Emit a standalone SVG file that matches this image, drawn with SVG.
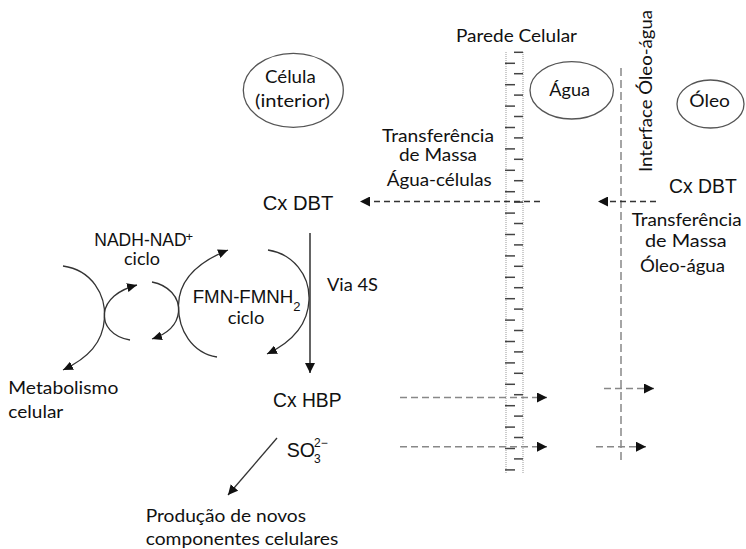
<svg xmlns="http://www.w3.org/2000/svg" width="746" height="549" viewBox="0 0 746 549">
<style>
.cal{font-family:Lato,"Open Sans","Liberation Sans",sans-serif;fill:#111;}
.ari{font-family:"Liberation Sans",Arial,sans-serif;fill:#111;}
.ell{fill:none;stroke:#555;stroke-width:1.3;}
.arc{fill:none;stroke:#333;stroke-width:1.3;}
.dashd{fill:none;stroke:#333;stroke-width:1.3;stroke-dasharray:6 4;}
.dashg{fill:none;stroke:#888;stroke-width:1.5;stroke-dasharray:7 4;}
.dot{fill:none;stroke:#999;stroke-width:1;stroke-dasharray:1 1;}
.tick{stroke:#444;stroke-width:1.5;}
</style>
<defs>
<marker id="ah" markerUnits="userSpaceOnUse" markerWidth="11" markerHeight="10" refX="10" refY="5" orient="auto" viewBox="0 0 11 10">
<path d="M0,0 L10,5 L0,10 z" fill="#111"/>
</marker>
<marker id="ahs" markerUnits="userSpaceOnUse" markerWidth="11" markerHeight="9" refX="10" refY="4.5" orient="auto" viewBox="0 0 11 9">
<path d="M0,0 L10,4.5 L0,9 z" fill="#111"/>
</marker>
</defs>
<rect width="746" height="549" fill="#fff"/>

<g id="cell-wall">
<line class="dot" x1="506" y1="52" x2="506" y2="473"/>
<line class="dot" x1="523" y1="52" x2="523" y2="473"/>
<g class="tick">
<line x1="505" y1="63.3" x2="515" y2="63.3"/><line x1="505" y1="84.7" x2="515" y2="84.7"/><line x1="505" y1="106.1" x2="515" y2="106.1"/><line x1="505" y1="127.5" x2="515" y2="127.5"/><line x1="505" y1="148.9" x2="515" y2="148.9"/><line x1="505" y1="170.3" x2="515" y2="170.3"/><line x1="505" y1="191.7" x2="515" y2="191.7"/><line x1="505" y1="213.1" x2="515" y2="213.1"/><line x1="505" y1="234.5" x2="515" y2="234.5"/><line x1="505" y1="255.9" x2="515" y2="255.9"/><line x1="505" y1="277.3" x2="515" y2="277.3"/><line x1="505" y1="298.7" x2="515" y2="298.7"/><line x1="505" y1="320.1" x2="515" y2="320.1"/><line x1="505" y1="341.5" x2="515" y2="341.5"/><line x1="505" y1="362.9" x2="515" y2="362.9"/><line x1="505" y1="384.3" x2="515" y2="384.3"/><line x1="505" y1="405.7" x2="515" y2="405.7"/><line x1="505" y1="427.1" x2="515" y2="427.1"/><line x1="505" y1="448.5" x2="515" y2="448.5"/><line x1="505" y1="469.9" x2="515" y2="469.9"/>
<line x1="514" y1="52.3" x2="523" y2="52.3"/><line x1="514" y1="73.7" x2="523" y2="73.7"/><line x1="514" y1="95.1" x2="523" y2="95.1"/><line x1="514" y1="116.5" x2="523" y2="116.5"/><line x1="514" y1="137.9" x2="523" y2="137.9"/><line x1="514" y1="159.3" x2="523" y2="159.3"/><line x1="514" y1="180.7" x2="523" y2="180.7"/><line x1="514" y1="202.1" x2="523" y2="202.1"/><line x1="514" y1="223.5" x2="523" y2="223.5"/><line x1="514" y1="244.9" x2="523" y2="244.9"/><line x1="514" y1="266.3" x2="523" y2="266.3"/><line x1="514" y1="287.7" x2="523" y2="287.7"/><line x1="514" y1="309.1" x2="523" y2="309.1"/><line x1="514" y1="330.5" x2="523" y2="330.5"/><line x1="514" y1="351.9" x2="523" y2="351.9"/><line x1="514" y1="373.3" x2="523" y2="373.3"/><line x1="514" y1="394.7" x2="523" y2="394.7"/><line x1="514" y1="416.1" x2="523" y2="416.1"/><line x1="514" y1="437.5" x2="523" y2="437.5"/><line x1="514" y1="458.9" x2="523" y2="458.9"/>
</g>
<text class="cal" x="456" y="42" font-size="18" textLength="121" lengthAdjust="spacingAndGlyphs">Parede Celular</text>
</g>

<g id="interface">
<line x1="621" y1="68" x2="621" y2="460" stroke="#888" stroke-width="1.5" stroke-dasharray="8 4"/>
<text class="cal" transform="translate(652,172) rotate(-90)" x="0" y="0" font-size="18" textLength="162" lengthAdjust="spacingAndGlyphs">Interface Óleo-água</text>
</g>

<g id="celula">
<ellipse class="ell" cx="293.3" cy="90.3" rx="50" ry="37"/>
<text class="cal" x="265" y="83" font-size="18" textLength="50.7" lengthAdjust="spacingAndGlyphs">Célula</text>
<text class="cal" x="255" y="106.5" font-size="18" textLength="75" lengthAdjust="spacingAndGlyphs">(interior)</text>
</g>

<g id="agua">
<ellipse class="ell" cx="571.7" cy="90.3" rx="41.7" ry="28.7"/>
<text class="cal" x="549.3" y="96" font-size="18" textLength="40.7" lengthAdjust="spacingAndGlyphs">Água</text>
</g>

<g id="oleo">
<ellipse class="ell" cx="710.5" cy="104" rx="33.5" ry="24"/>
<text class="cal" x="689.3" y="106.5" font-size="18" textLength="40.7" lengthAdjust="spacingAndGlyphs">Óleo</text>
</g>

<g id="transf-agua-celulas">
<text class="cal" x="382" y="141.7" font-size="17" textLength="112" lengthAdjust="spacingAndGlyphs">Transferência</text>
<text class="cal" x="399" y="161" font-size="17" textLength="78" lengthAdjust="spacingAndGlyphs">de Massa</text>
<text class="cal" x="386.7" y="185.5" font-size="17" textLength="105" lengthAdjust="spacingAndGlyphs">Água-células</text>
</g>

<g id="transf-oleo-agua">
<text class="cal" x="631.7" y="226" font-size="17" textLength="110" lengthAdjust="spacingAndGlyphs">Transferência</text>
<text class="cal" x="645" y="247" font-size="17" textLength="81.7" lengthAdjust="spacingAndGlyphs">de Massa</text>
<text class="cal" x="640" y="272" font-size="17" textLength="85" lengthAdjust="spacingAndGlyphs">Óleo-água</text>
</g>

<g id="cx-dbt-cell">
<text class="ari" x="262.7" y="210" font-size="20" textLength="70.6" lengthAdjust="spacingAndGlyphs">Cx DBT</text>
</g>
<g id="cx-dbt-oil">
<text class="ari" x="669" y="193" font-size="19.5" textLength="67.7" lengthAdjust="spacingAndGlyphs">Cx DBT</text>
</g>

<g id="nadh">
<text class="ari" x="94.3" y="245.7" font-size="17.5" textLength="92.4" lengthAdjust="spacingAndGlyphs">NADH-NAD</text>
<text class="ari" x="185.5" y="241" font-size="13">+</text>
<text class="cal" x="124" y="265" font-size="17" textLength="36" lengthAdjust="spacingAndGlyphs">ciclo</text>
</g>

<g id="fmn">
<text class="ari" x="192.7" y="303.3" font-size="18.5" textLength="100.6" lengthAdjust="spacingAndGlyphs">FMN-FMNH</text>
<text class="ari" x="293.3" y="310.5" font-size="13">2</text>
<text class="cal" x="227.7" y="324.3" font-size="17" textLength="36.6" lengthAdjust="spacingAndGlyphs">ciclo</text>
</g>

<g id="via4s">
<text class="cal" x="327" y="290.7" font-size="17" textLength="51" lengthAdjust="spacingAndGlyphs">Via 4S</text>
</g>

<g id="cx-hbp">
<text class="ari" x="273" y="406.7" font-size="19.5" textLength="68.5" lengthAdjust="spacingAndGlyphs">Cx HBP</text>
</g>

<g id="so3">
<text class="ari" x="286.7" y="456.7" font-size="20" textLength="28.3" lengthAdjust="spacingAndGlyphs">SO</text>
<text class="ari" x="314" y="463" font-size="12">3</text>
<text class="ari" x="314" y="446.5" font-size="12">2−</text>
</g>

<g id="metabolismo">
<text class="cal" x="8.3" y="394" font-size="18" textLength="110" lengthAdjust="spacingAndGlyphs">Metabolismo</text>
<text class="cal" x="8.3" y="418" font-size="18" textLength="55" lengthAdjust="spacingAndGlyphs">celular</text>
</g>

<g id="producao">
<text class="cal" x="145.7" y="521.7" font-size="18" textLength="160.3" lengthAdjust="spacingAndGlyphs">Produção de novos</text>
<text class="cal" x="145.7" y="545" font-size="18" textLength="192.6" lengthAdjust="spacingAndGlyphs">componentes celulares</text>
</g>

<g id="connectors">
<path class="dashd" d="M540,201.5 L360,201.5" marker-end="url(#ah)"/>
<path class="dashd" d="M656,201.5 L598,201.5" marker-end="url(#ah)"/>
<path class="dashg" d="M400,397.5 L547,397.5" marker-end="url(#ah)"/>
<path class="dashg" d="M604,388.5 L654,388.5" marker-end="url(#ah)"/>
<path class="dashg" d="M400,446.7 L547,446.7" marker-end="url(#ah)"/>
<path class="dashg" d="M596,446.7 L646,446.7" marker-end="url(#ah)"/>
<path fill="none" stroke="#111" stroke-width="1.3" d="M310,233 L310,373" marker-end="url(#ah)"/>
<path fill="none" stroke="#333" stroke-width="1.3" d="M277,438 L228,495" marker-end="url(#ah)"/>
<path class="arc" d="M63,266 C92,270 106,295 104.5,318 C103,343 88,358 63,370" marker-end="url(#ahs)"/>
<path class="arc" d="M130,340 C112,337 103,325 104.5,313 C106,300 118,290 137,285" marker-end="url(#ahs)"/>
<path class="arc" d="M152,282 C168,285 180,297 178.5,312 C177,326 167,334 152,339" marker-end="url(#ahs)"/>
<path class="arc" d="M217,357 C192,353 178,330 178.5,305 C179,280 198,262 228,250" marker-end="url(#ahs)"/>
<path class="arc" d="M268,250 C293,254 310,275 309,300 C308,325 292,342 267,354" marker-end="url(#ahs)"/>
</g>
</svg>
